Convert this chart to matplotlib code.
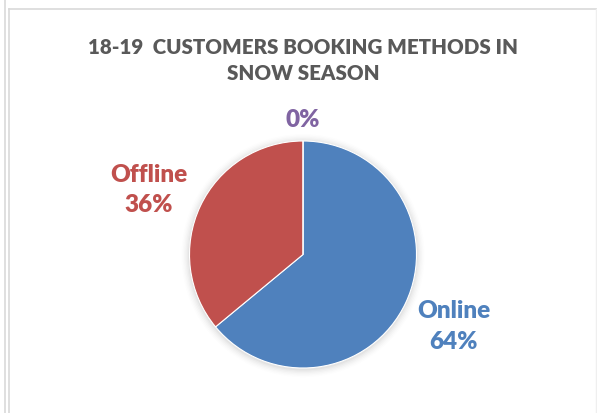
import matplotlib
matplotlib.use("Agg")
import matplotlib.pyplot as plt
import numpy as np
from matplotlib.patches import Circle
from matplotlib.lines import Line2D

categories = ["Online", "Offline", ""]
values = [64, 36, 0]
colors = ["#4F81BD", "#C0504D", "#8064A2"]
title = "18-19  CUSTOMERS BOOKING METHODS IN\nSNOW SEASON"

plt.rcParams['font.family'] = ['Lato', 'DejaVu Sans']

W, H = 597, 414
fig = plt.figure(figsize=(W / 100, H / 100), dpi=100)
fig.patch.set_facecolor("white")

# frame lines
fig.add_artist(Line2D([5.2 / W, 5.2 / W], [0, 1], color="#D9D9D9", lw=1.2))
fig.add_artist(Line2D([9.3 / W, 9.3 / W], [0, 1 - 9.5 / H], color="#D9D9D9", lw=1.2))
fig.add_artist(Line2D([9.3 / W, 1], [1 - 9.5 / H, 1 - 9.5 / H], color="#D9D9D9", lw=1.2))
fig.add_artist(Line2D([595.5 / W, 595.5 / W], [0, 1 - 9.5 / H], color="#EFEFEF", lw=1.0))

fig.text(303 / W, 1 - 60.5 / H, title, ha="center", va="center", fontsize=14.8,
         fontweight="heavy", color="#595959", linespacing=1.4)

cx, cy, r = 303, 255.5, 113.5
ax = fig.add_axes([(cx - r * 1.6) / W, (H - cy - r * 1.6) / H, 2 * r * 1.6 / W, 2 * r * 1.6 / H])

# soft shadow
for i, a in enumerate(np.linspace(0.05, 0.01, 6)):
    ax.add_patch(Circle((0.0, -0.01), 1.0 + 0.012 * (i + 1), color="black", alpha=a * 0.6, lw=0, zorder=0))

wedges, _ = ax.pie(values, colors=colors, startangle=90, counterclock=False, radius=1.0,
                   wedgeprops=dict(linewidth=0.8, edgecolor="white"))
for w in wedges:
    w.set_zorder(2)
ax.set_xlim(-1.6, 1.6)
ax.set_ylim(-1.6, 1.6)
ax.set_aspect("equal")
ax.axis("off")

total = sum(values)
dists = [1.47, 1.475, 1.19]
angle_tweak = [0.0, 2.2, 0.0]
start = 90.0
for cat, v, c, d, t in zip(categories, values, colors, dists, angle_tweak):
    span = 360.0 * v / total
    mid = np.deg2rad(start - span / 2 + t)
    start -= span
    pct = f"{round(100 * v / total)}%"
    label = f"{cat}\n{pct}" if cat else pct
    ax.text(d * np.cos(mid), d * np.sin(mid), label, ha="center", va="center",
            fontsize=17.5, fontweight="heavy", color=c, linespacing=1.45, zorder=3)

fig.savefig("out.png", dpi=100, facecolor="white")
